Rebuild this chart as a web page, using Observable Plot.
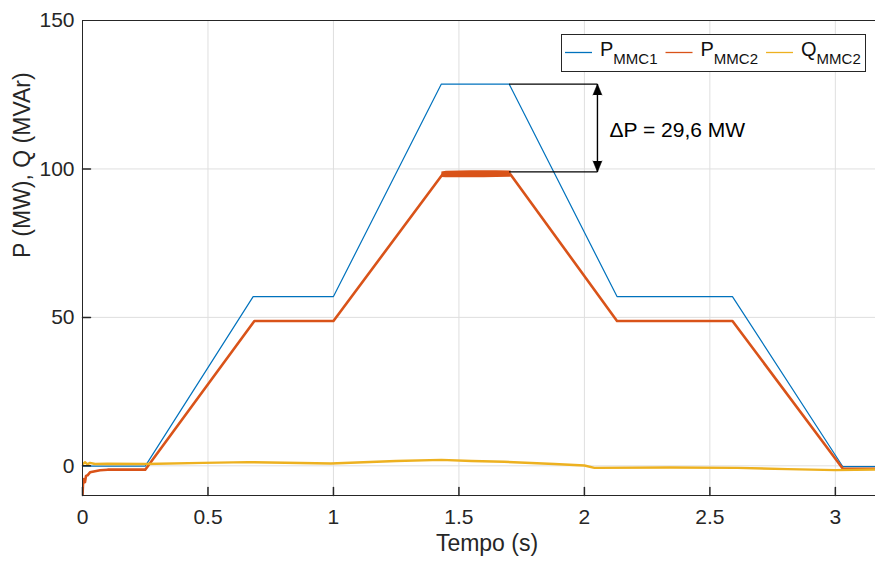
<!DOCTYPE html>
<html>
<head>
<meta charset="utf-8">
<script src="https://cdn.jsdelivr.net/npm/d3@7"></script>
<script src="https://cdn.jsdelivr.net/npm/@observablehq/plot@0.6"></script>
<style>
  body { margin: 0; background: #fff; }
  #chart { width: 875px; height: 561px; }
</style>
</head>
<body>
<div id="chart"></div>
<script>
// Active power of MMC1 (MW) versus time (s)
const tP1 = [0, 0.25, 0.68, 1.0, 1.43, 1.70, 2.13, 2.59, 3.03, 3.16];
const vP1 = [-0.1, -0.1, 57.0, 57.0, 128.6, 128.6, 57.0, 57.0, -0.3, -0.3];

// Active power of MMC2 (MW) versus time (s)
const tP2 = [0, 0.002, 0.006, 0.01, 0.014, 0.02, 0.03, 0.045, 0.07, 0.1, 0.25, 0.685, 1.0, 1.435, 1.705, 2.13, 2.59, 3.03, 3.16];
const vP2 = [-10, -6.2, -4.5, -5.5, -3.4, -3.2, -2.2, -1.9, -1.5, -1.3, -1.3, 48.8, 48.8, 98.2, 98.2, 48.8, 48.8, -1.0, -1.0];

// Ripple envelope of MMC2 power on the top plateau
const tBand = [1.432, 1.45, 1.5, 1.55, 1.6, 1.65, 1.708];
const loBand = [97.1, 97.0, 97.0, 97.0, 97.0, 97.1, 97.2];
const hiBand = [99.0, 99.2, 99.3, 99.4, 99.4, 99.4, 99.3];

// Reactive power of MMC2 (MVAr) versus time (s)
const tQ = [0, 0.01, 0.02, 0.03, 0.05, 0.1, 0.25, 0.48, 0.66, 0.99, 1.25, 1.43, 1.55, 1.68, 1.88, 2.0, 2.04, 2.34, 2.61, 2.81, 3.0, 3.16];
const vQ = [0.5, 1.2, 0.5, 1.0, 0.6, 0.7, 0.6, 1.0, 1.25, 0.8, 1.6, 2.0, 1.6, 1.35, 0.6, 0.1, -0.7, -0.55, -0.7, -1.1, -1.45, -1.25];

const seriesNames = [["P", "MMC1"], ["P", "MMC2"], ["Q", "MMC2"]];
const seriesColors = ["#0072BD", "#D95319", "#EDB120"];

// Power difference annotation
const deltaP = 29.6;
const p1Peak = 128.6;
const deltaFrom = 1.70, deltaTo = 2.052;
const deltaLabelAt = [2.10, 113];

const xTicks = [0, 0.5, 1, 1.5, 2, 2.5, 3];
const yTicks = [0, 50, 100, 150];

const rows = (ts, vs) => ts.map((t, i) => ({t, v: vs[i]}));
const p1Rows = rows(tP1, vP1);
const p2Rows = rows(tP2, vP2);
const qRows = rows(tQ, vQ);
const bandRows = tBand.map((t, i) => ({t, lo: loBand[i], hi: hiBand[i]}));

const p2Level = p1Peak - deltaP;
const deltaLinks = [
  {x1: deltaFrom, x2: deltaTo, y: p1Peak},
  {x1: deltaFrom, x2: deltaTo, y: p2Level}
];
const heads = [
  {x: deltaTo, y: p1Peak, rotate: 0},
  {x: deltaTo, y: p2Level, rotate: 180}
];
const deltaText = "ΔP = " + String(deltaP).replace(".", ",") + " MW";

// Inward tick marks drawn as plain strokes
const tickShape = {draw(context, l) { context.moveTo(0, 0); context.lineTo(0, -l); }};
const axisColor = "#262626";
const font = '"Liberation Sans", Arial, Helvetica, sans-serif';

const svg = Plot.plot({
  width: 875,
  height: 561,
  marginLeft: 82,
  marginRight: 0,
  marginTop: 20,
  marginBottom: 66,
  style: {fontFamily: font, fontSize: "21px", color: axisColor, background: "white", overflow: "visible"},
  x: {domain: [0, 3.16]},
  y: {domain: [-10, 150]},
  marks: [
    Plot.gridX(xTicks.slice(1), {stroke: "#dfdfdf", strokeOpacity: 1}),
    Plot.gridY(yTicks.slice(0, 3), {stroke: "#dfdfdf", strokeOpacity: 1}),
    Plot.line(p1Rows, {x: "t", y: "v", stroke: seriesColors[0], strokeWidth: 1.2, clip: true}),
    Plot.areaY(bandRows, {x: "t", y1: "lo", y2: "hi", fill: seriesColors[1], clip: true}),
    Plot.line(p2Rows, {x: "t", y: "v", stroke: seriesColors[1], strokeWidth: 2.6, clip: true}),
    Plot.line(qRows, {x: "t", y: "v", stroke: seriesColors[2], strokeWidth: 2.4, clip: true}),
    Plot.link(deltaLinks, {x1: "x1", x2: "x2", y1: "y", y2: "y", stroke: "black", strokeWidth: 1.2}),
    Plot.link([{x: deltaTo}], {x1: "x", x2: "x", y1: p2Level, y2: p1Peak, stroke: "black", strokeWidth: 1.4}),
    Plot.vector(heads, {x: "x", y: "y", rotate: "rotate", length: 11, r: 4.5, shape: "spike", anchor: "end", fill: "black", stroke: "black", strokeWidth: 0.5}),
    Plot.text([deltaText], {x: deltaLabelAt[0], y: deltaLabelAt[1], textAnchor: "start", fontSize: 21, fill: "black"}),
    Plot.ruleX([0], {stroke: axisColor}),
    Plot.ruleY([-10, 150], {stroke: axisColor}),
    Plot.vector(xTicks, {x: d => d, y: -10, rotate: 0, length: 8, anchor: "start", shape: tickShape, stroke: axisColor}),
    Plot.vector(yTicks.slice(0, 3), {x: 0, y: d => d, rotate: 90, length: 8, anchor: "start", shape: tickShape, stroke: axisColor}),
    Plot.axisX({ticks: xTicks, tickSize: 0, tickPadding: 14, tickFormat: d => String(d), label: null}),
    Plot.axisY({ticks: yTicks, tickSize: 0, tickPadding: 8, tickFormat: d => String(d), label: null}),
    Plot.text(["P (MW), Q (MVAr)"], {frameAnchor: "left", dx: -60, rotate: -90, fontSize: 23, fill: axisColor}),
    Plot.text(["Tempo (s)"], {frameAnchor: "bottom", dx: 8, dy: 55, fontSize: 23, fill: axisColor})
  ]
});

document.getElementById("chart").appendChild(svg);

// Legend box inside the axes, top right
const lg = d3.select(svg).append("g").attr("transform", "translate(561,34)")
  .attr("text-anchor", "start")
  .style("font-family", font);
lg.append("rect").attr("x", 0.5).attr("y", 0.5).attr("width", 304).attr("height", 37)
  .attr("fill", "white").attr("stroke", axisColor).attr("stroke-width", 1);
let cx = 4;
seriesNames.forEach(([main, sub], i) => {
  lg.append("line").attr("x1", cx).attr("x2", cx + 27).attr("y1", 18.5).attr("y2", 18.5)
    .attr("stroke", seriesColors[i]).attr("stroke-width", 1.3);
  const tx = lg.append("text").attr("x", cx + 35).attr("y", 22).attr("fill", "#111")
    .attr("text-anchor", "start")
    .style("font-size", "20px");
  tx.append("tspan").text(main);
  tx.append("tspan").attr("dy", 8).style("font-size", "15px").text(sub);
  cx += 35 + tx.node().getComputedTextLength() + 8;
});
</script>
</body>
</html>
